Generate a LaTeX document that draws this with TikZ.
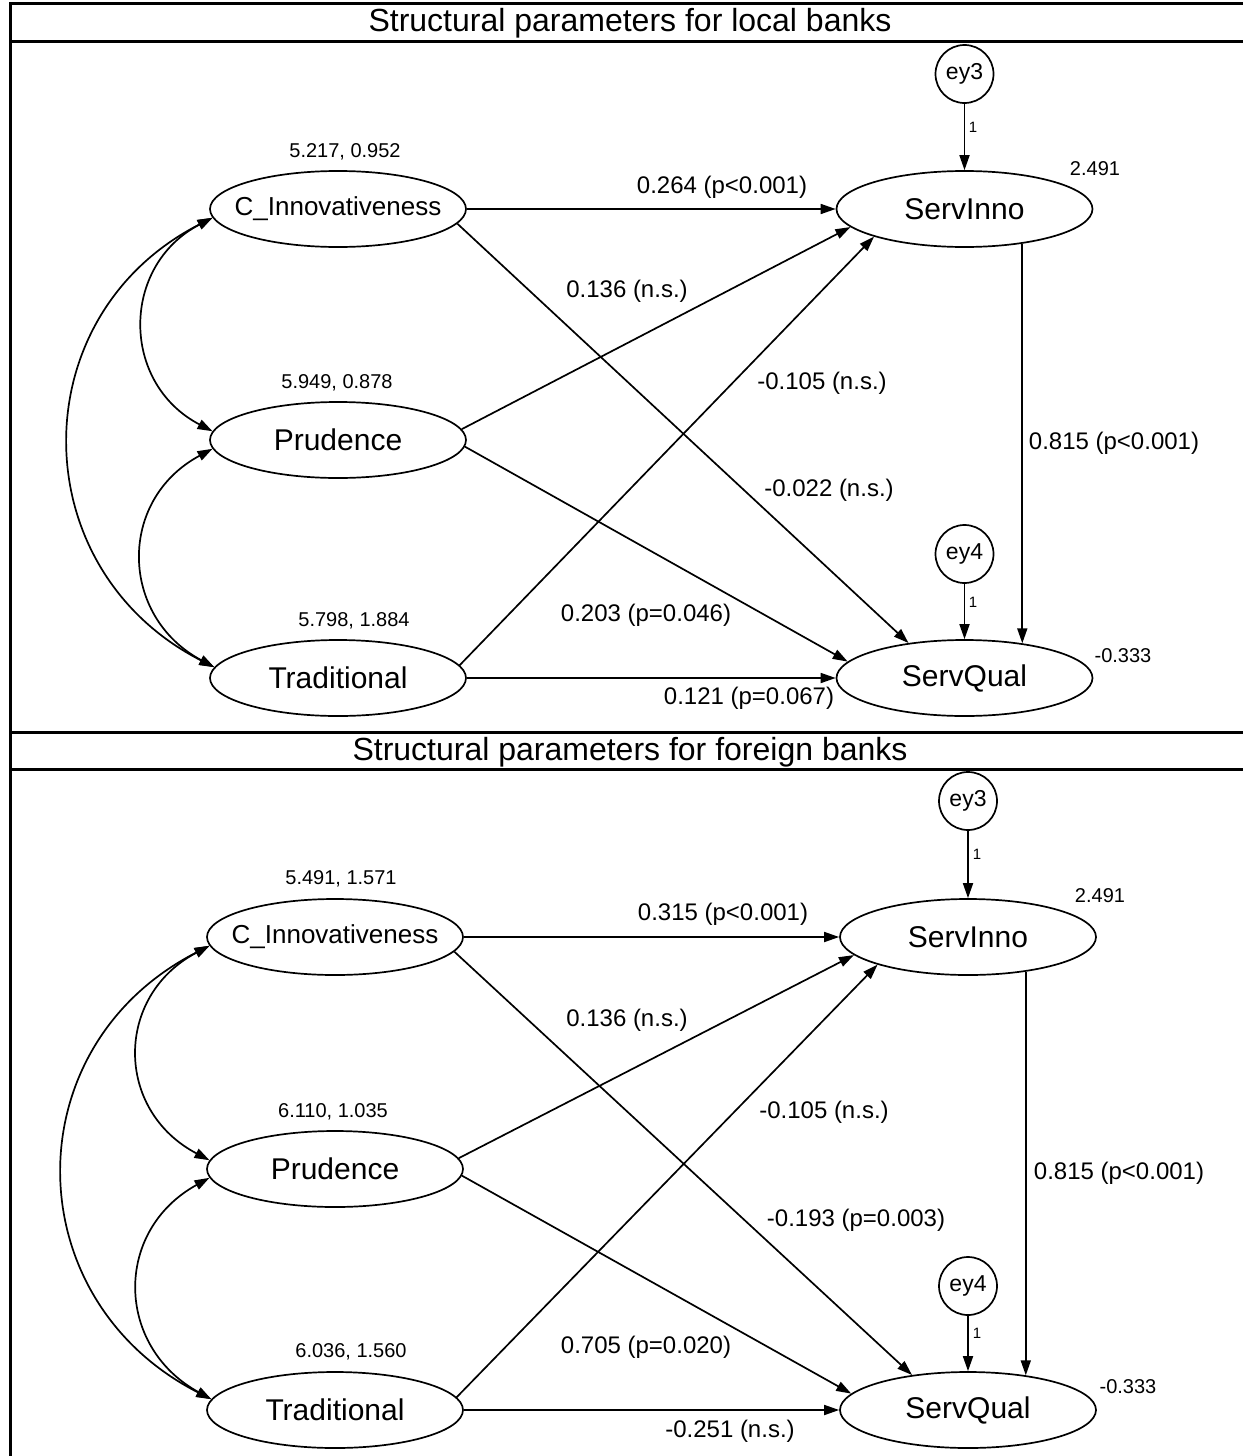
\documentclass[tikz,border=0pt]{standalone}
\usepackage{fontspec}
\setmainfont{Liberation Sans}
\usetikzlibrary{arrows.meta,shapes.geometric}

\begin{document}
\begin{tikzpicture}[x=1pt,y=-1pt,
  latent/.style={draw,ellipse,line width=1.7pt,minimum width=256pt,minimum height=76pt,
    inner sep=0pt,font=\fontsize{30}{30}\selectfont},
  longname/.style={inner xsep=-40pt,font=\fontsize{26}{26}\selectfont},
  errc/.style={draw,circle,line width=1.7pt,minimum size=58pt,inner sep=0pt,
    font=\fontsize{23}{23}\selectfont},
  tip/.tip={Triangle[length=15pt,width=10pt]},
  regpath/.style={line width=1.7pt,-tip},
  covpath/.style={line width=1.7pt,tip-tip},
  coef/.style={font=\fontsize{24}{24}\selectfont,inner sep=0pt},
  est/.style={font=\fontsize{20}{20}\selectfont,inner sep=0pt},
  unitw/.style={font=\fontsize{15}{15}\selectfont,inner sep=0pt},
  tablerule/.style={line width=3pt},
  paneltitle/.style={font=\fontsize{32}{32}\selectfont,inner sep=0pt}]

\useasboundingbox (0,0) rectangle (1243,1456);

% table frame
\draw[tablerule] (10,1456) -- (10,3) -- (1243,3);
\draw[tablerule] (10,41) -- (1243,41);
\draw[tablerule] (10,732) -- (1243,732);
\draw[tablerule] (10,769) -- (1243,769);
\node[paneltitle] (t1) at (630,23) {Structural parameters for local banks};
\node[paneltitle] (t2) at (630,752) {Structural parameters for foreign banks};

% ---------------- local banks ----------------
\node[latent,longname] (ci1) at (338,209) {C\_Innovativeness};
\node[latent] (pr1) at (338,440) {Prudence};
\node[latent] (tr1) at (338,678) {Traditional};
\node[latent] (si1) at (964.5,209) {ServInno};
\node[latent] (sq1) at (964.5,678) {ServQual};
\node[errc] (e31) at (964.5,74) {ey3};
\node[errc] (e41) at (964.5,554) {ey4};

\draw[regpath] (e31) -- (si1);
\draw[regpath] (e41) -- (sq1);
\draw[regpath] (ci1) -- (si1);
\draw[regpath] (ci1.-7) -- (sq1.148);
\draw[regpath] (pr1.5) -- (si1.189);
\draw[regpath] (pr1.-3) -- (sq1.172);
\draw[regpath] (tr1.6) -- (si1.197);
\draw[regpath] (tr1) -- (sq1);
\draw[regpath] (si1.-31) -- (sq1.31);

% covariances among the exogenous constructs (circular-looking arcs)
\draw[covpath] (ci1.184) .. controls +(-92,48) and +(-92,-48) .. (pr1.176);
\draw[covpath] (pr1.184) .. controls +(-95,51) and +(-95,-51) .. (tr1.175);
\draw[covpath] (ci1.184) .. controls +(-192,98) and +(-192,-98) .. (tr1.175);

\node[est] (v11) at (345,152) {5.217, 0.952};
\node[est] (v12) at (337,383) {5.949, 0.878};
\node[est] (v13) at (354,621) {5.798, 1.884};
\node[est] (v14) at (1095,169) {2.491};
\node[est] (v15) at (1123,656) {-0.333};
\node[unitw] (u11) at (973,127) {1};
\node[unitw] (u12) at (973,602) {1};

\node[coef] (c11) at (722,187) {0.264 (p<0.001)};
\node[coef] (c12) at (627,291) {0.136 (n.s.)};
\node[coef] (c13) at (822,383) {-0.105 (n.s.)};
\node[coef] (c14) at (1114,443) {0.815 (p<0.001)};
\node[coef] (c15) at (829,490) {-0.022 (n.s.)};
\node[coef] (c16) at (646,615) {0.203 (p=0.046)};
\node[coef] (c17) at (749,698) {0.121 (p=0.067)};

% ---------------- foreign banks ----------------
\node[latent,longname] (ci2) at (335,937) {C\_Innovativeness};
\node[latent] (pr2) at (335,1169) {Prudence};
\node[latent] (tr2) at (335,1410) {Traditional};
\node[latent] (si2) at (968,937) {ServInno};
\node[latent] (sq2) at (968,1410) {ServQual};
\node[errc] (e32) at (968,801) {ey3};
\node[errc] (e42) at (968,1286) {ey4};

\draw[regpath] (e32) -- (si2);
\draw[regpath] (e42) -- (sq2);
\draw[regpath] (ci2) -- (si2);
\draw[regpath] (ci2.-7) -- (sq2.148);
\draw[regpath] (pr2.5) -- (si2.189);
\draw[regpath] (pr2.-3) -- (sq2.172);
\draw[regpath] (tr2.6) -- (si2.197);
\draw[regpath] (tr2) -- (sq2);
\draw[regpath] (si2.-31) -- (sq2.31);

% covariances among the exogenous constructs (circular-looking arcs)
\draw[covpath] (ci2.184) .. controls +(-95,50) and +(-95,-50) .. (pr2.176);
\draw[covpath] (pr2.184) .. controls +(-96,53) and +(-96,-53) .. (tr2.175);
\draw[covpath] (ci2.184) .. controls +(-196,100) and +(-196,-100) .. (tr2.175);

\node[est] (v21) at (341,879) {5.491, 1.571};
\node[est] (v22) at (333,1112) {6.110, 1.035};
\node[est] (v23) at (351,1352) {6.036, 1.560};
\node[est] (v24) at (1100,896) {2.491};
\node[est] (v25) at (1128,1387) {-0.333};
\node[unitw] (u21) at (977,854) {1};
\node[unitw] (u22) at (977,1333) {1};

\node[coef] (c21) at (723,914) {0.315 (p<0.001)};
\node[coef] (c22) at (627,1020) {0.136 (n.s.)};
\node[coef] (c23) at (824,1112) {-0.105 (n.s.)};
\node[coef] (c24) at (1119,1173) {0.815 (p<0.001)};
\node[coef] (c25) at (856,1220) {-0.193 (p=0.003)};
\node[coef] (c26) at (646,1347) {0.705 (p=0.020)};
\node[coef] (c27) at (730,1431) {-0.251 (n.s.)};

\end{tikzpicture}
\end{document}
